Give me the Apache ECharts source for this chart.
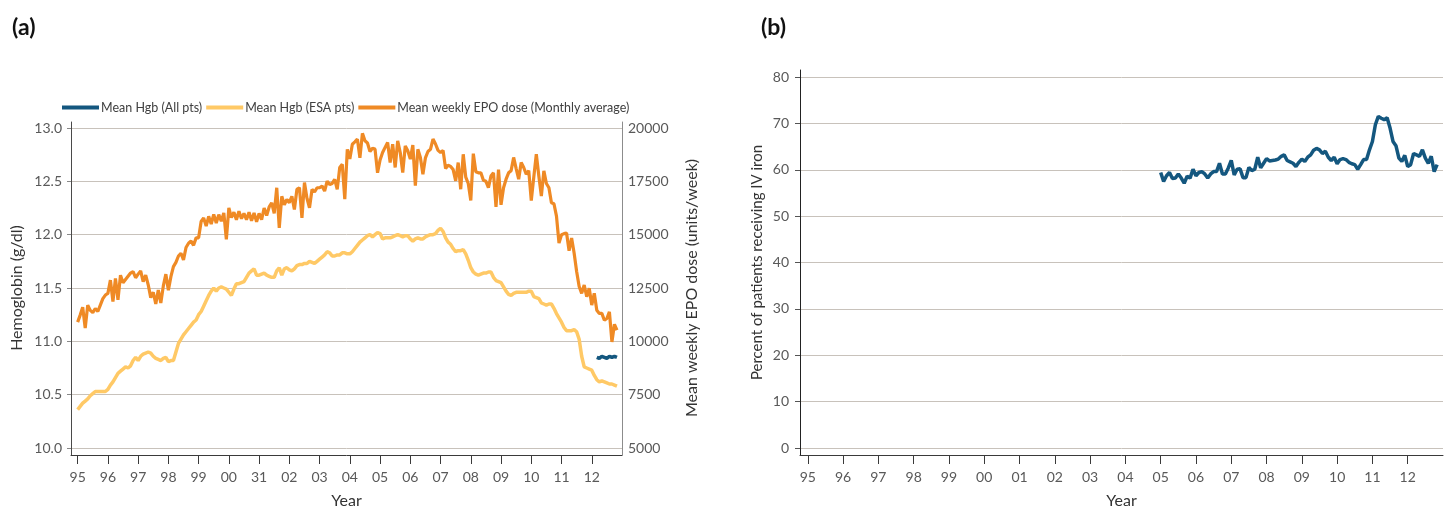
<!DOCTYPE html>
<html lang="en">
<head>
<meta charset="UTF-8">
<title>Hemoglobin, EPO dose and IV iron use</title>
<script src="https://cdn.jsdelivr.net/npm/echarts@6/dist/echarts.min.js"></script>
<style>
  html, body { margin: 0; padding: 0; background: #fff; }
  #chart { width: 1448px; height: 510px; }
</style>
</head>
<body>
<div id="chart"></div>
<script>
// x axis ticks (start of each year)
var tickYears = [1995, 1996, 1997, 1998, 1999, 2000, 2001, 2002, 2003, 2004, 2005, 2006, 2007, 2008, 2009, 2010, 2011, 2012];
var leftYearLabels = ['95', '96', '97', '98', '99', '00', '31', '02', '03', '04', '05', '06', '07', '08', '09', '10', '11', '12'];
var rightYearLabels = ['95', '96', '97', '98', '99', '00', '01', '02', '03', '04', '05', '06', '07', '08', '09', '10', '11', '12'];

// monthly series, first month of each given separately
var esaStart = '1995-01';
var hgbEsa = [
  10.36, 10.39, 10.42, 10.44, 10.46, 10.49, 10.51, 10.53, 10.53, 10.53, 10.53, 10.53,
  10.55, 10.59, 10.62, 10.66, 10.70, 10.72, 10.74, 10.76, 10.75, 10.77, 10.82, 10.85,
  10.82, 10.86, 10.88, 10.89, 10.90, 10.89, 10.86, 10.84, 10.83, 10.82, 10.84, 10.85,
  10.81, 10.82, 10.82, 10.90, 10.98, 11.02, 11.06, 11.09, 11.12, 11.15, 11.18, 11.20,
  11.25, 11.28, 11.33, 11.38, 11.43, 11.47, 11.50, 11.47, 11.50, 11.51, 11.50, 11.49,
  11.46, 11.43, 11.49, 11.54, 11.54, 11.55, 11.56, 11.60, 11.64, 11.66, 11.68, 11.62,
  11.62, 11.63, 11.64, 11.62, 11.61, 11.60, 11.60, 11.66, 11.69, 11.62, 11.68, 11.69,
  11.67, 11.66, 11.68, 11.71, 11.72, 11.72, 11.73, 11.73, 11.75, 11.74, 11.73, 11.75,
  11.77, 11.79, 11.81, 11.84, 11.83, 11.80, 11.80, 11.81, 11.81, 11.83, 11.83, 11.82,
  11.82, 11.84, 11.87, 11.90, 11.93, 11.95, 11.97, 11.99, 12.00, 11.98, 12.00, 12.02,
  12.01, 11.96, 11.97, 11.97, 11.97, 11.98, 11.99, 12.00, 11.99, 11.98, 11.99, 11.99,
  11.96, 11.94, 11.96, 11.97, 11.96, 11.96, 11.98, 11.99, 12.00, 12.00, 12.01, 12.04,
  12.06, 12.03, 11.97, 11.93, 11.91, 11.87, 11.84, 11.85, 11.85, 11.86, 11.82, 11.76,
  11.69, 11.65, 11.63, 11.62, 11.63, 11.64, 11.64, 11.65, 11.65, 11.60, 11.57, 11.56,
  11.55, 11.51, 11.47, 11.44, 11.43, 11.45, 11.46, 11.46, 11.46, 11.46, 11.46, 11.47,
  11.47, 11.42, 11.41, 11.40, 11.36, 11.35, 11.34, 11.35, 11.35, 11.31, 11.26, 11.22,
  11.18, 11.13, 11.10, 11.10, 11.10, 11.11, 11.09, 11.02, 10.86, 10.76, 10.75, 10.74,
  10.73, 10.68, 10.64, 10.62, 10.63, 10.62, 10.61, 10.60, 10.60, 10.59, 10.58
];

var epoStart = '1995-01';
var epoDose = [
  10900, 11230, 11600, 10620, 11700, 11450, 11350, 11540, 11400, 11700, 12000, 12170,
  12250, 12870, 11860, 12950, 11950, 13100, 12750, 12900, 13050, 13200, 13270, 12980,
  13150, 13300, 12800, 13100, 12650, 12050, 12300, 11750, 12400, 11800, 12600, 13150,
  12400, 13030, 13500, 13700, 14000, 14130, 13820, 14400, 14600, 14700, 14500, 14850,
  14850, 15620, 15780, 15400, 15860, 15500, 15950, 15550, 15940, 15630, 16020, 14780,
  16250, 15800, 16050, 15700, 16100, 15750, 16000, 15700, 16050, 15650, 16020, 15600,
  16000, 15700, 16250, 15900, 16300, 16490, 16000, 17200, 15320, 16800, 16400, 16650,
  16500, 16800, 16180, 17120, 17200, 15790, 17440, 16700, 16260, 17120, 17000, 17200,
  17200, 17280, 17040, 17510, 17350, 17400, 17590, 17120, 18150, 18300, 16660, 19000,
  18550, 19240, 19350, 19480, 18600, 19750, 19400, 19300, 18900, 19050, 19010, 17900,
  18500, 18850, 19090, 19320, 18380, 19240, 18150, 19400, 18850, 17910, 19160, 18930,
  18540, 19200, 17300, 19000, 18620, 17830, 18600, 18900, 19000, 19480, 19250, 18950,
  18850, 18950, 18100, 18250, 18200, 18050, 17520, 18380, 17130, 18770, 17700, 17400,
  16600, 18800, 17950, 17900, 17900, 17550, 17500, 17200, 17750, 17900, 16300, 18050,
  16400, 17200, 17600, 17900, 18000, 18620, 18100, 17600, 18380, 18150, 17830, 18000,
  16600, 17700, 18770, 17750, 16810, 17990, 17400, 17200, 16500, 16450, 15870, 14610,
  15000, 15050, 15080, 14250, 14840, 14140, 13270, 12570, 12250, 12640, 12090, 12490,
  11700, 12250, 11460, 11310, 11310, 10990, 11070, 11380, 9970, 10800, 10520
];

var allStart = '2012-03';
var hgbAll = [10.85, 10.84, 10.86, 10.85, 10.84, 10.86, 10.85, 10.86, 10.85];

var ironStart = '2005-01';
var ivIron = [
  59.4, 57.5, 58.7, 59.4, 58.1, 58.2, 59.1, 58.2, 57.1, 58.6, 58.2, 60.1,
  58.7, 59.4, 59.6, 59.1, 58.2, 59.1, 59.6, 59.6, 61.4, 59.1, 59.1, 60.4,
  62.0, 58.9, 60.1, 60.2, 58.3, 58.3, 60.5, 59.8, 60.1, 62.7, 60.4, 61.4,
  62.4, 61.9, 62.0, 62.1, 62.3, 62.9, 63.2, 62.0, 61.7, 61.4, 60.7, 61.6,
  62.3, 61.8, 62.7, 63.2, 64.2, 64.6, 64.3, 63.5, 64.0, 62.7, 62.0, 62.7,
  61.3, 62.2, 62.4, 62.2, 61.6, 61.3, 61.1, 60.1, 61.1, 62.2, 62.2, 64.3,
  66.1, 69.7, 71.5, 71.1, 70.8, 71.2, 69.0, 66.1, 65.2, 62.5, 61.8, 63.1,
  60.7, 61.1, 63.5, 63.2, 62.9, 64.3, 62.5, 61.4, 62.9, 59.6, 61.1
];

// month string + index -> decimal year
function monthly(start, values) {
  var p = start.split('-');
  var t0 = +p[0] + (+p[1] - 1) / 12;
  return values.map(function (v, i) { return [t0 + i / 12, v]; });
}

var FONT = 'Lato';
var GRID_LINE = '#c8c2bb';
var LABEL = '#595959';
var X_MIN = 1994.78, X_MAX = 2013;

function yearAxis(gridIndex, labels) {
  return {
    type: 'value', gridIndex: gridIndex, min: X_MIN, max: X_MAX,
    axisLine: { onZero: false, lineStyle: { color: '#3a3a3a', width: 1 } },
    axisTick: { customValues: tickYears, length: 9, lineStyle: { color: '#3a3a3a' } },
    axisLabel: {
      customValues: tickYears, margin: 15, fontSize: 14, color: LABEL, fontFamily: FONT,
      formatter: function (v) { return labels[tickYears.indexOf(Math.round(v))]; }
    },
    splitLine: { show: false },
    name: 'Year', nameLocation: 'middle', nameGap: 38,
    nameTextStyle: { fontSize: 16, color: '#333', fontFamily: FONT }
  };
}
function hiddenX(gridIndex) {
  return { type: 'value', gridIndex: gridIndex, min: X_MIN, max: X_MAX, show: false };
}
function frameY(gridIndex, pos, color) {
  return {
    type: 'value', gridIndex: gridIndex, position: pos, min: 0, max: 1,
    axisLine: { show: true, onZero: false, lineStyle: { color: color, width: 1 } },
    axisTick: { show: false }, axisLabel: { show: false }, splitLine: { show: false }
  };
}

var chart = echarts.init(document.getElementById('chart'));
chart.setOption({
  animation: false,
  backgroundColor: '#fff',
  textStyle: { fontFamily: FONT },
  title: [
    { text: '(a)', left: 7, top: 11, textStyle: { fontSize: 23, fontWeight: 'bold', color: '#111', fontFamily: FONT } },
    { text: '(b)', left: 756, top: 11, textStyle: { fontSize: 23, fontWeight: 'bold', color: '#111', fontFamily: FONT } }
  ],
  legend: {
    data: ['Mean Hgb (All pts)', 'Mean Hgb (ESA pts)', 'Mean weekly EPO dose (Monthly average)'],
    left: 62, top: 101, padding: 0,
    icon: 'rect', itemWidth: 37, itemHeight: 4, itemGap: 4,
    textStyle: { fontSize: 12.5, color: '#404040', fontFamily: FONT, padding: [0, 0, 0, -3] }
  },
  grid: [
    { left: 71, top: 122, width: 551, height: 333, outerBoundsMode: 'none' },
    { left: 71, top: 128, width: 551, height: 320, outerBoundsMode: 'none' },
    { left: 800, top: 70, width: 643, height: 385, outerBoundsMode: 'none' },
    { left: 800, top: 77, width: 643, height: 371, outerBoundsMode: 'none' }
  ],
  xAxis: [yearAxis(0, leftYearLabels), hiddenX(1), yearAxis(2, rightYearLabels), hiddenX(3)],
  yAxis: [
    frameY(0, 'left', '#4a4a4a'),
    frameY(0, 'right', '#8c8c8c'),
    {
      type: 'value', gridIndex: 1, position: 'left', min: 10, max: 13, interval: 0.5,
      axisLine: { show: false },
      axisTick: { show: true, length: 4, lineStyle: { color: '#888' } },
      axisLabel: { margin: 9, fontSize: 14, color: LABEL, fontFamily: FONT,
        formatter: function (v) { return v.toFixed(1); } },
      splitLine: { show: true, lineStyle: { color: GRID_LINE, width: 1 } },
      name: 'Hemoglobin (g/dl)', nameLocation: 'middle', nameGap: 46, nameRotate: 90,
      nameTextStyle: { fontSize: 16, color: '#333', fontFamily: FONT }
    },
    {
      type: 'value', gridIndex: 1, position: 'right', min: 5000, max: 20000, interval: 2500,
      axisLine: { show: false }, axisTick: { show: false },
      axisLabel: { margin: 6, fontSize: 14, color: LABEL, fontFamily: FONT,
        formatter: function (v) { return String(v); } },
      splitLine: { show: false },
      name: 'Mean weekly EPO dose (units/week)', nameLocation: 'middle', nameGap: 62, nameRotate: 90,
      nameTextStyle: { fontSize: 16, color: '#333', fontFamily: FONT }
    },
    frameY(2, 'left', '#222'),
    {
      type: 'value', gridIndex: 3, position: 'left', min: 0, max: 80, interval: 10,
      axisLine: { show: false },
      axisTick: { show: true, length: 5, lineStyle: { color: '#555' } },
      axisLabel: { margin: 11, fontSize: 14, color: LABEL, fontFamily: FONT },
      splitLine: { show: true, lineStyle: { color: GRID_LINE, width: 1 } },
      name: 'Percent of patients receiving IV iron', nameLocation: 'middle', nameGap: 35, nameRotate: 90,
      nameTextStyle: { fontSize: 15, color: '#333', fontFamily: FONT }
    }
  ],
  series: [
    {
      name: 'Mean weekly EPO dose (Monthly average)', type: 'line', xAxisIndex: 1, yAxisIndex: 3,
      data: monthly(epoStart, epoDose), showSymbol: false,
      itemStyle: { color: '#ef8a25' }, lineStyle: { color: '#ef8a25', width: 3.2 }
    },
    {
      name: 'Mean Hgb (ESA pts)', type: 'line', xAxisIndex: 1, yAxisIndex: 2,
      data: monthly(esaStart, hgbEsa), showSymbol: false,
      itemStyle: { color: '#ffc966' }, lineStyle: { color: '#ffc966', width: 3.5 }
    },
    {
      name: 'Mean Hgb (All pts)', type: 'line', xAxisIndex: 1, yAxisIndex: 2,
      data: monthly(allStart, hgbAll), showSymbol: false,
      itemStyle: { color: '#14577f' }, lineStyle: { color: '#14577f', width: 3.5 }
    },
    {
      name: 'IV iron', type: 'line', xAxisIndex: 3, yAxisIndex: 5,
      data: monthly(ironStart, ivIron), showSymbol: false,
      itemStyle: { color: '#14577f' }, lineStyle: { color: '#14577f', width: 3.5 }
    }
  ]
});
</script>
</body>
</html>
